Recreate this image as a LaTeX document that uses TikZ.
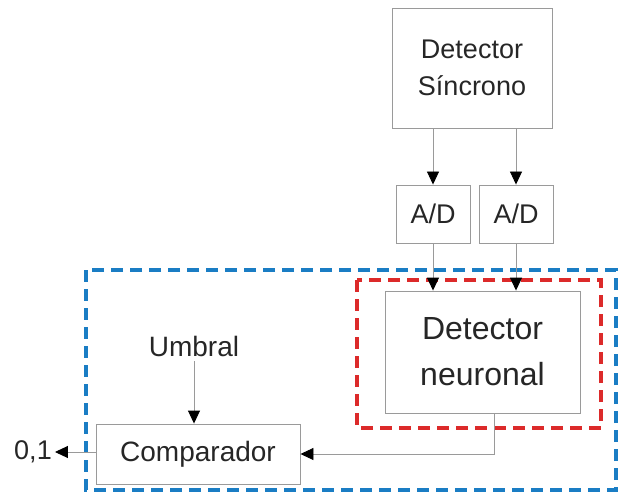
\documentclass[tikz,border=0pt]{standalone}
\usepackage{fontspec}
\setmainfont{Liberation Sans}
\usetikzlibrary{arrows.meta,calc}
\definecolor{boxgray}{HTML}{9A9A9A}
\definecolor{dblue}{HTML}{1A7DC4}
\definecolor{dred}{HTML}{DC2A2A}
\begin{document}
\begin{tikzpicture}[x=1pt,y=-1pt,
  blk/.style={draw=boxgray,line width=0.9pt,inner sep=0pt,align=center,text=black!85},
  arr/.style={draw=boxgray,line width=0.9pt,-{Triangle[length=13pt,width=12pt,color=black]}},
  conn/.style={draw=boxgray,line width=0.9pt},
  bluedash/.style={draw=dblue,line width=4.5pt,dash pattern=on 12pt off 7pt},
  reddash/.style={draw=dred,line width=4.5pt,dash pattern=on 12pt off 7pt},
  lbl/.style={inner sep=0pt,text=black!85}]
\useasboundingbox (0,0) rectangle (623,494);
\node[blk,minimum width=160pt,minimum height=120pt,font=\fontsize{27}{37}\selectfont] (sync) at (472,68) {Detector\\ Síncrono};
\node[blk,minimum width=74pt,minimum height=58pt,font=\fontsize{27}{32}\selectfont] (ad1) at (433,214) {A/D};
\node[blk,minimum width=74pt,minimum height=58pt,font=\fontsize{27}{32}\selectfont] (ad2) at (516,214) {A/D};
\node[blk,minimum width=195pt,minimum height=122pt,font=\fontsize{32}{46}\selectfont] (neu) at (482.5,352) {Detector\\ neuronal};
\node[blk,minimum width=204pt,minimum height=60pt,font=\fontsize{28}{32}\selectfont] (comp) at (198,454) {Comparador};
\node[lbl,font=\fontsize{28}{32}\selectfont] (umb) at (194,346) {Umbral};
\node[lbl,font=\fontsize{27}{32}\selectfont] (out) at (33,452) {0,1};
\draw[bluedash] (86,270) rectangle (616,490);
\draw[reddash] (357,280) rectangle (601,428);
\draw[arr] (sync.south -| ad1.north) -- (ad1.north);
\draw[arr] (sync.south -| ad2.north) -- (ad2.north);
\draw[arr] (ad1.south) -- (ad1.south |- neu.north);
\draw[arr] (ad2.south) -- (ad2.south |- neu.north);
\draw[arr] ([yshift=-5pt]umb.south) -- (umb.south |- comp.north);
\coordinate (nd) at ([xshift=12pt]neu.south);
\draw[arr] (nd) |- (comp.east);
\draw[arr] (comp.west |- out.east) -- ([xshift=3pt]out.east);
\end{tikzpicture}
\end{document}
